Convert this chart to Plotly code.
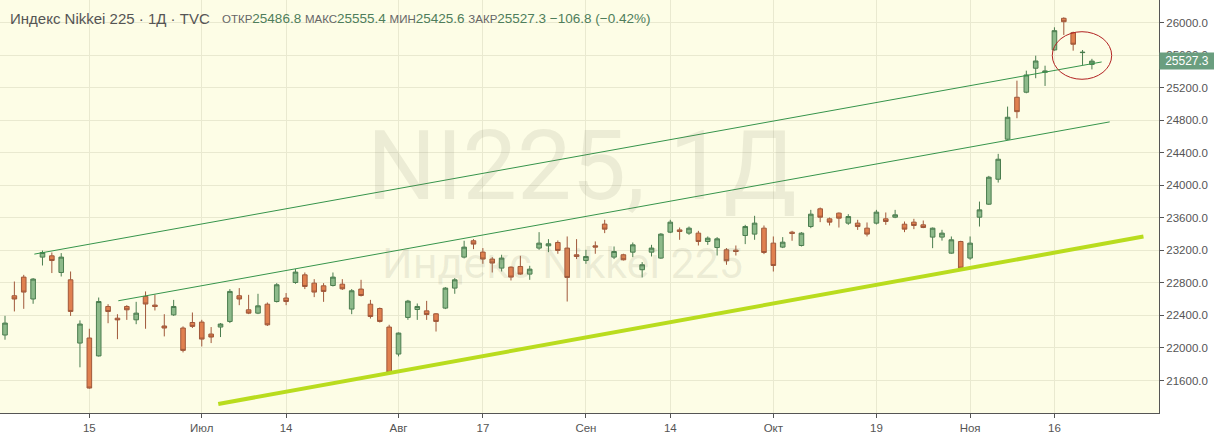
import plotly.graph_objects as go

# ---- data ----
dates = ["06-02","06-03","06-04","06-05","06-08","06-09","06-10","06-11","06-12","06-15",
         "06-16","06-17","06-18","06-19","06-22","06-23","06-24","06-25","06-26","06-29",
         "06-30","07-01","07-02","07-03","07-06","07-07","07-08","07-09","07-10","07-13",
         "07-14","07-15","07-16","07-17","07-20","07-21","07-22","07-27","07-28","07-29",
         "07-30","07-31","08-03","08-04","08-05","08-06","08-07","08-11","08-12","08-13",
         "08-14","08-17","08-18","08-19","08-20","08-21","08-24","08-25","08-26","08-27",
         "08-28","08-31","09-01","09-02","09-03","09-04","09-07","09-08","09-09","09-10",
         "09-11","09-14","09-15","09-16","09-17","09-18","09-23","09-24","09-25","09-28",
         "09-29","09-30","10-02","10-05","10-06","10-07","10-08","10-09","10-12","10-13",
         "10-14","10-15","10-16","10-19","10-20","10-21","10-22","10-23","10-26","10-27",
         "10-28","10-29","10-30","11-02","11-04","11-05","11-06","11-09","11-10","11-11",
         "11-12","11-13","11-16","11-17","11-18","11-19","11-20"]

open_ = [22159,22642,22871,22602,23117,23133,22928,22838,22060,22122,
         21902,22510,22366,22510,22346,22634,22527,22270,22407,22245,
         22313,22318,22171,22257,22326,22642,22469,22428,22538,22571,
         22614,22805,22899,22797,22764,22768,22784,22478,22724,22538,
         22485,22257,21925,22375,22473,22456,22420,22490,22736,23117,
         23318,23179,23093,22982,22994,23002,22908,23228,23256,23297,
         23228,23146,23076,23256,23523,23117,23146,23178,22962,23178,
         23105,23424,23452,23412,23412,23309,23235,23207,23203,23383,
         23400,23473,23289,23240,23424,23260,23493,23711,23588,23658,
         23535,23535,23473,23535,23588,23608,23522,23547,23514,23363,
         23363,23166,23309,23105,23608,23768,24075,24567,25083,25145,
         25440,25390,25665,26054,25877,25632,25486.8]
high = [22395,22817,22899,22859,23198,23174,23166,22940,22339,22236,
        22620,22538,22415,22526,22567,22695,22657,22415,22591,22265,
        22436,22346,22257,22306,22724,22736,22653,22666,22559,22797,
        22675,22970,22928,22846,22797,22928,22846,22724,22838,22591,
        22497,22285,22190,22591,22547,22579,22428,22748,22859,23318,
        23338,23228,23117,23146,23002,23133,23010,23424,23338,23322,
        23371,23338,23207,23310,23576,23248,23158,23297,23056,23268,
        23412,23576,23481,23493,23440,23371,23363,23228,23260,23514,
        23625,23506,23371,23363,23440,23424,23698,23727,23604,23666,
        23645,23576,23543,23698,23666,23698,23555,23588,23567,23481,
        23453,23371,23318,23371,23800,24116,24387,24968,25287,25410,
        25594,25471,25943,26066,25889,25664,25555.4]
low = [22101,22449,22481,22543,23014,22921,22879,22394,21762,21500,
       21894,22304,22108,22345,22292,22236,22461,22142,22394,21945,
       22245,22018,22060,22134,22306,22526,22416,22416,22270,22559,
       22526,22789,22724,22625,22567,22756,22713,22415,22633,22362,
       22313,21683,21896,22346,22345,22345,22202,22478,22666,23101,
       23215,23035,22928,22940,22830,22899,22838,23207,23178,23158,
       22571,23093,23035,23158,23412,23093,23076,23117,22867,23125,
       23096,23412,23330,23391,23260,23268,23137,23023,23137,23277,
       23330,23154,22940,23228,23318,23248,23473,23547,23506,23481,
       23514,23452,23371,23518,23514,23596,23424,23461,23473,23227,
       23320,23158,22953,23084,23493,23760,24034,24558,24825,25132,
       25317,25222,25656,25849,25656,25480,25425.6]
close = [22306,22602,22687,22847,23174,23075,23117,22449,22294,21507,
         22571,22448,22345,22469,22428,22540,22510,22245,22510,21970,
         22265,22109,22134,22294,22695,22602,22428,22518,22284,22777,
         22571,22933,22756,22687,22695,22871,22727,22703,22645,22387,
         22326,21699,22183,22576,22510,22411,22326,22736,22838,23240,
         23277,23093,23044,23105,22871,22908,22969,23289,23281,23199,
         22867,23125,23125,23240,23461,23186,23084,23268,23023,23228,
         23400,23547,23432,23473,23309,23350,23342,23072,23186,23493,
         23535,23174,23014,23301,23408,23412,23645,23608,23547,23596,
         23616,23493,23400,23670,23555,23637,23461,23506,23481,23473,
         23412,23330,22982,23289,23698,24100,24321,24837,24906,25357,
         25529,25406,25902,26012,25735,25636,25527.3]

tick_dates = ["06-15", "07-01", "07-14", "08-03", "08-17", "09-01",
              "09-14", "10-02", "10-19", "11-02", "11-16"]
tick_labels = ["15", "Июл", "14", "Авг", "17", "Сен", "14", "Окт", "19", "Ноя", "16"]
price_ticks = [21600, 22000, 22400, 22800, 23200, 23600, 24000, 24400, 24800, 25200, 25600, 26000]

# drawn trend lines: (start index, start price, end index, end price)
upper_line = [3.13, 23154, 117.04, 25517]
middle_line = [12.09, 22580, 117.9, 24780]
lower_line = [22.76, 21311, 121.5, 23370]
# highlighted ellipse (index / price bounds)
circle_box = [111.77, 25304, 118.11, 25889]

title_text = "Индекс Nikkei 225 · 1Д · TVC"
ohlc_labels = ["ОТКР", "МАКС", "МИН", "ЗАКР"]
ohlc_values = ["25486.8", "25555.4", "25425.6", "25527.3"]
change_text = "−106.8 (−0.42%)"
last_price = 25527.3

# ---- figure ----
x = list(range(len(dates)))
idx = {d: i for i, d in enumerate(dates)}

fig = go.Figure()
fig.add_trace(go.Candlestick(
    x=x, open=open_, high=high, low=low, close=close,
    increasing=dict(line=dict(color="#4b7d4f", width=1), fillcolor="#8dba8a"),
    decreasing=dict(line=dict(color="#a0583a", width=1), fillcolor="#e0804f"),
    whiskerwidth=0, showlegend=False, hoverinfo="skip"))

line_green = "#36944b"
for ln, col, w in [(upper_line, line_green, 1), (middle_line, line_green, 1), (lower_line, "#b9dc1e", 4)]:
    fig.add_shape(type="line", xref="x", yref="y", x0=ln[0], y0=ln[1], x1=ln[2], y1=ln[3],
                  line=dict(color=col, width=w))
fig.add_shape(type="circle", xref="x", yref="y", x0=circle_box[0], y0=circle_box[1],
              x1=circle_box[2], y1=circle_box[3], line=dict(color="#b22222", width=1))

H = 413.0
def py(px):
    return 1 - px / H

# watermark
wm_color = "rgba(120,120,100,0.13)"
fig.add_annotation(text="NI225, 1Д", xref="paper", yref="paper", x=582 / 1159, y=py(166),
                   showarrow=False, font=dict(family="Roboto", size=97, color=wm_color))
fig.add_annotation(text="Индекс Nikkei 225", xref="paper", yref="paper", x=562 / 1159, y=py(263),
                   showarrow=False, font=dict(family="Roboto", size=43, color=wm_color))

# header
fig.add_annotation(text=title_text, xref="paper", yref="paper", x=8 / 1159, y=py(18),
                   xanchor="left", yanchor="middle", showarrow=False,
                   font=dict(family="Liberation Sans", size=15, color="#555555"))
parts = []
for lab, val in zip(ohlc_labels, ohlc_values):
    parts.append(f"<span style='font-size:11.5px;color:#666666'>{lab}</span>{val}")
parts.append(change_text)
fig.add_annotation(text=" ".join(parts), xref="paper", yref="paper", x=220 / 1159, y=py(18),
                   xanchor="left", yanchor="middle", showarrow=False,
                   font=dict(family="Liberation Sans", size=13.5, color="#4e7d5b"))

# last price tag
fig.add_annotation(text=str(last_price), xref="paper", yref="y", x=1, y=last_price,
                   xanchor="left", yanchor="middle", showarrow=False, width=52, height=14,
                   bgcolor="#6a9e7f", borderpad=1,
                   font=dict(family="Liberation Sans", size=12, color="#ffffff"))

fig.update_layout(
    width=1214, height=436,
    margin=dict(l=0, r=55, t=0, b=23),
    paper_bgcolor="#ffffff", plot_bgcolor="#fdfde6",
    xaxis=dict(range=[-0.534, 123.16], rangeslider=dict(visible=False),
               tickvals=[idx[d] for d in tick_dates], ticktext=tick_labels,
               showgrid=True, gridcolor="#e9e9d0", gridwidth=1, zeroline=False,
               showline=True, linecolor="#555555", linewidth=1,
               ticks="outside", ticklen=4, tickcolor="#555555",
               tickfont=dict(family="Liberation Sans", size=11.5, color="#555555")),
    yaxis=dict(side="right", range=[21200, 26279],
               tickvals=price_ticks, ticktext=[f"{v:.1f}" for v in price_ticks],
               showgrid=True, gridcolor="#e9e9d0", gridwidth=1, zeroline=False,
               showline=True, linecolor="#555555", linewidth=1,
               ticks="outside", ticklen=4, tickcolor="#555555",
               tickfont=dict(family="Liberation Sans", size=11.5, color="#555555")),
)

fig.write_html("out.html", config={"displayModeBar": False},
               post_script="document.body.style.margin='0';")
